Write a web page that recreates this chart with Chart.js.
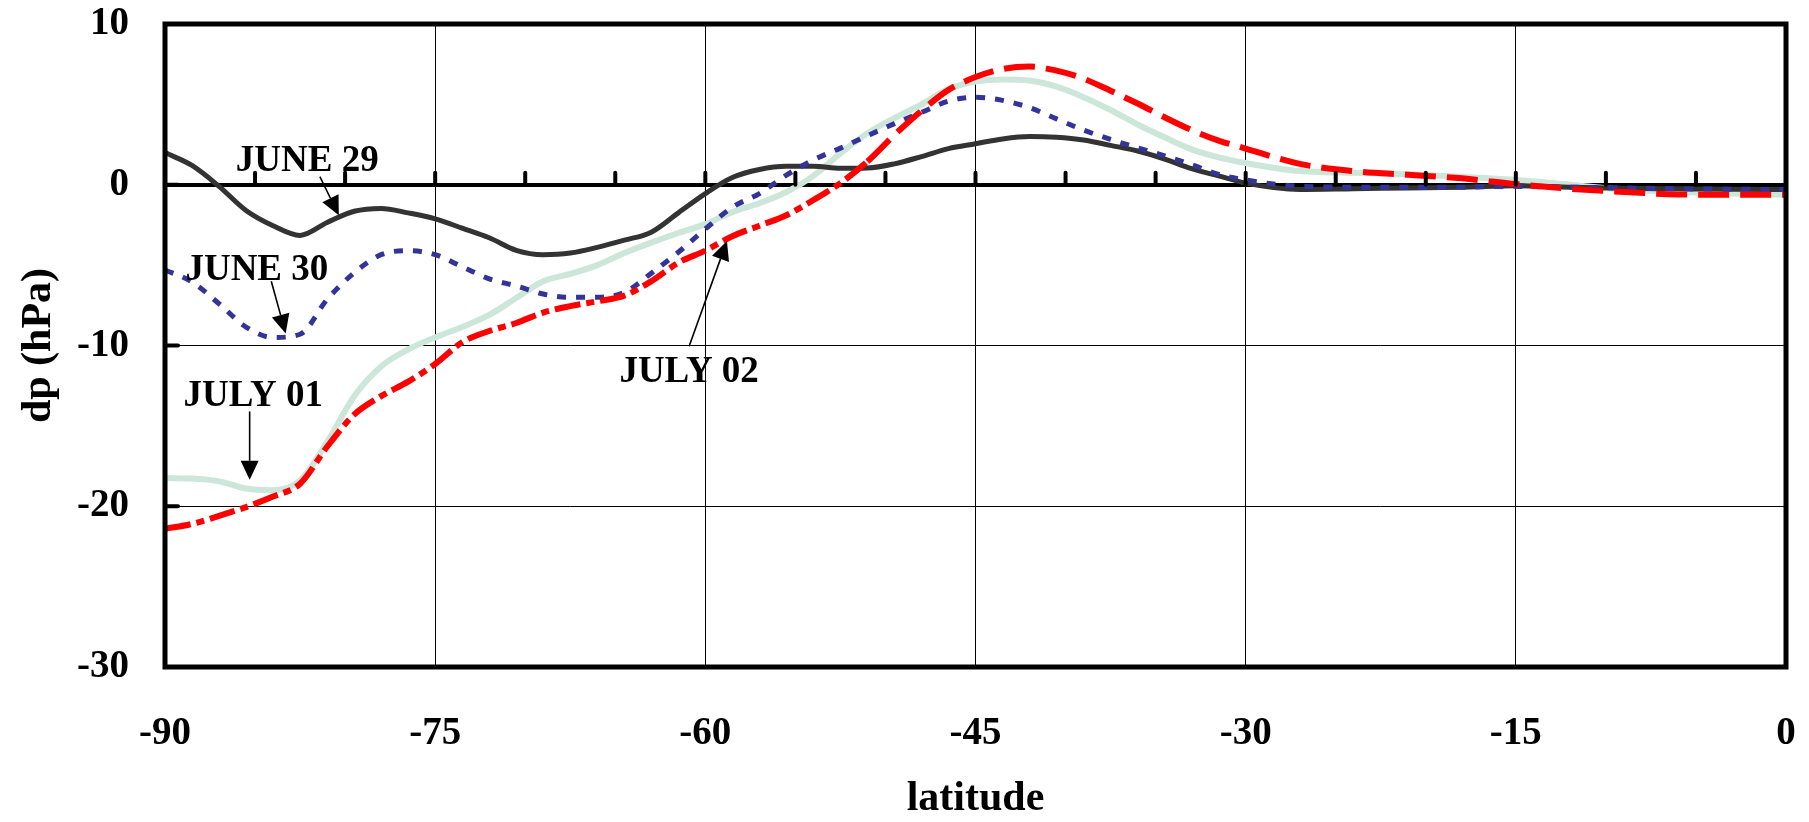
<!DOCTYPE html>
<html>
<head>
<meta charset="utf-8">
<script src="https://cdn.jsdelivr.net/npm/chart.js@4.4.0/dist/chart.umd.min.js"></script>
<style>
  html, body { margin: 0; padding: 0; background: #fff; }
  #wrap { width: 1809px; height: 822px; }
</style>
</head>
<body>
<div id="wrap"><canvas id="grafik"></canvas></div>
<script>
const latitude = [-90, -88.5, -87, -85.5, -84, -82.5, -81, -79.5, -78, -76.5, -75, -73.5, -72, -70.5, -69, -67.5, -66, -64.5, -63, -61.5,
  -60, -58.5, -57, -55.5, -54, -52.5, -51, -49.5, -48, -46.5, -45, -43.5, -42, -40.5, -39, -37.5, -36, -34.5, -33, -31.5,
  -30, -27, -24, -21, -18, -15, -12, -9, -6, -3, 0];

const june29 = [2.0, 1.2, -0.1, -1.6, -2.55, -3.15, -2.35, -1.65, -1.47, -1.75, -2.12, -2.7, -3.3, -4.08, -4.35, -4.25, -3.9, -3.45, -2.95, -1.75,
  -0.55, 0.45, 0.95, 1.15, 1.15, 1.02, 1.04, 1.3, 1.75, 2.25, 2.55, 2.85, 3.0, 2.95, 2.78, 2.45, 2.1, 1.6, 1.0, 0.55,
  0.1, -0.3, -0.25, -0.2, -0.15, -0.06, -0.15, -0.22, -0.25, -0.28, -0.3];

const june30 = [-5.3, -6.05, -7.4, -8.85, -9.5, -9.3, -7.14, -5.48, -4.35, -4.1, -4.35, -5.1, -5.85, -6.3, -6.8, -7.0, -7.0, -6.7, -5.5, -4.2,
  -2.75, -1.4, -0.55, 0.6, 1.55, 2.28, 3.05, 3.8, 4.5, 5.2, 5.45, 5.25, 4.8, 4.1, 3.4, 2.82, 2.3, 1.8, 1.25, 0.65,
  0.3, -0.1, -0.15, -0.15, -0.15, -0.1, -0.15, -0.2, -0.25, -0.28, -0.3];

const july01 = [-18.25, -18.28, -18.45, -18.9, -19.0, -18.4, -16.0, -13.15, -11.3, -10.25, -9.5, -8.85, -8.1, -7.05, -6.0, -5.55, -5.0, -4.25, -3.6, -3.0,
  -2.45, -1.7, -1.15, -0.45, 0.55, 1.95, 3.2, 4.15, 5.0, 5.95, 6.42, 6.55, 6.48, 6.1, 5.45, 4.65, 3.75, 2.95, 2.2, 1.7,
  1.35, 0.85, 0.75, 0.65, 0.5, 0.3, 0.0, -0.3, -0.45, -0.55, -0.62];

const july02 = [-21.4, -21.1, -20.6, -20.05, -19.4, -18.6, -16.3, -14.3, -13.15, -12.25, -11.15, -9.8, -9.1, -8.6, -7.95, -7.55, -7.25, -6.9, -6.0, -4.85,
  -4.1, -3.2, -2.55, -1.9, -0.95, 0.1, 1.45, 3.1, 4.6, 5.9, 6.7, 7.2, 7.35, 7.1, 6.6, 5.85, 5.05, 4.2, 3.4, 2.75,
  2.25, 1.3, 0.85, 0.62, 0.4, 0.04, -0.25, -0.45, -0.6, -0.62, -0.62];

const xTicks = [-90, -75, -60, -45, -30, -15, 0];
const yTicks = [-30, -20, -10, 0, 10];

// annotation text, where the text sits, and the arrow (all in data units)
const notes = [
  { text: "JUNE 29", at: [-82.1, 0.85], from: [-81.4, 0.5], to: [-80.35, -1.9] },
  { text: "JUNE 30", at: [-84.9, -5.9], from: [-84.1, -6.0], to: [-83.3, -9.25] },
  { text: "JULY 01", at: [-85.1, -13.75], from: [-85.3, -14.1], to: [-85.3, -18.35] },
  { text: "JULY 02", at: [-60.9, -12.3], from: [-60.9, -10.05], to: [-58.8, -3.5] }
];

const font = "'Liberation Serif', 'Times New Roman', serif";

function toPoints(values) {
  return latitude.map((lat, i) => ({ x: lat, y: values[i] }));
}

function drawArrow(ctx, x1, y1, x2, y2) {
  const ang = Math.atan2(y2 - y1, x2 - x1);
  const len = 19, half = 9;
  const bx = x2 - Math.cos(ang) * len;
  const by = y2 - Math.sin(ang) * len;
  ctx.beginPath();
  ctx.moveTo(x1, y1);
  ctx.lineTo(bx, by);
  ctx.stroke();
  ctx.beginPath();
  ctx.moveTo(x2, y2);
  ctx.lineTo(bx + Math.sin(ang) * half, by - Math.cos(ang) * half);
  ctx.lineTo(bx - Math.sin(ang) * half, by + Math.cos(ang) * half);
  ctx.closePath();
  ctx.fill();
}

// scales add label padding around the plot; the layout is fixed here instead
function noPadding(s) {
  s.paddingTop = 0;
  s.paddingBottom = 0;
  s.paddingLeft = 0;
  s.paddingRight = 0;
}

const decor = {
  id: 'decor',
  afterDatasetsDraw(chart) {
    const { ctx, chartArea: a, scales: { x, y } } = chart;
    ctx.save();
    ctx.strokeStyle = '#000';
    ctx.fillStyle = '#000';

    // small ticks standing on the zero line, every 5 degrees
    ctx.lineWidth = 4;
    ctx.lineCap = 'round';
    const y0 = y.getPixelForValue(0);
    for (let v = -85; v < 0; v += 5) {
      const px = x.getPixelForValue(v);
      ctx.beginPath();
      ctx.moveTo(px, y0);
      ctx.lineTo(px, y0 - 12);
      ctx.stroke();
    }
    // inward ticks on the left axis
    yTicks.forEach(v => {
      const py = y.getPixelForValue(v);
      ctx.beginPath();
      ctx.moveTo(a.left, py);
      ctx.lineTo(a.left + 13, py);
      ctx.stroke();
    });

    // frame
    ctx.lineCap = 'butt';
    ctx.lineWidth = 5;
    ctx.strokeRect(a.left, a.top, a.right - a.left, a.bottom - a.top);

    // labels with arrows
    ctx.font = `bold 37px ${font}`;
    ctx.textAlign = 'center';
    ctx.textBaseline = 'alphabetic';
    ctx.lineWidth = 1.6;
    notes.forEach(n => {
      ctx.fillText(n.text, x.getPixelForValue(n.at[0]), y.getPixelForValue(n.at[1]));
      drawArrow(ctx,
        x.getPixelForValue(n.from[0]), y.getPixelForValue(n.from[1]),
        x.getPixelForValue(n.to[0]), y.getPixelForValue(n.to[1]));
    });
    ctx.restore();
  }
};

const ctx = document.getElementById('grafik').getContext('2d');
new Chart(ctx, {
  type: 'line',
  data: {
    datasets: [
      {
        label: 'JUNE 29',
        data: toPoints(june29),
        borderColor: '#333333',
        borderWidth: 5,
        order: 2
      },
      {
        label: 'JUNE 30',
        data: toPoints(june30),
        borderColor: '#333399',
        borderWidth: 5,
        borderDash: [9, 10],
        order: 1
      },
      {
        label: 'JULY 01',
        data: toPoints(july01),
        borderColor: '#cce6da',
        borderWidth: 6,
        order: 3
      },
      {
        label: 'JULY 02',
        data: toPoints(july02),
        borderColor: '#ff0000',
        borderWidth: 6,
        segment: {
          borderDash: c => c.p0.parsed.x < -51 ? [26, 6, 8, 6] : [31, 11]
        },
        order: 0
      }
    ]
  },
  options: {
    responsive: true,
    maintainAspectRatio: false,
    animation: false,
    layout: { padding: { top: 24, right: 23, left: 0, bottom: 0 } },
    elements: {
      point: { radius: 0 },
      line: { cubicInterpolationMode: 'monotone', fill: false }
    },
    plugins: {
      legend: { display: false },
      tooltip: { enabled: false }
    },
    scales: {
      x: {
        type: 'linear',
        min: -90,
        max: 0,
        afterBuildTicks: s => { s.ticks = xTicks.map(v => ({ value: v })); },
        afterFit: s => { s.height = 155; noPadding(s); },
        border: { display: false },
        grid: { color: '#000', lineWidth: 1, drawTicks: false },
        ticks: {
          padding: 44,
          color: '#000',
          font: { family: font, size: 39, weight: 'bold' }
        },
        title: {
          display: true,
          text: 'latitude',
          color: '#000',
          padding: { top: 0, bottom: 2 },
          font: { family: font, size: 42, weight: 'bold', lineHeight: 1 }
        }
      },
      y: {
        min: -30,
        max: 10,
        afterBuildTicks: s => { s.ticks = yTicks.map(v => ({ value: v })); },
        afterFit: s => { s.width = 165; noPadding(s); },
        border: { display: false },
        grid: {
          color: '#000',
          lineWidth: c => c.tick && c.tick.value === 0 ? 4 : 1,
          drawTicks: false
        },
        ticks: {
          padding: 36,
          color: '#000',
          font: { family: font, size: 39, weight: 'bold' }
        },
        title: {
          display: true,
          text: 'dp (hPa)',
          color: '#000',
          padding: { top: 14, bottom: 0 },
          font: { family: font, size: 42, weight: 'bold' }
        }
      }
    }
  },
  plugins: [decor]
});
</script>
</body>
</html>
